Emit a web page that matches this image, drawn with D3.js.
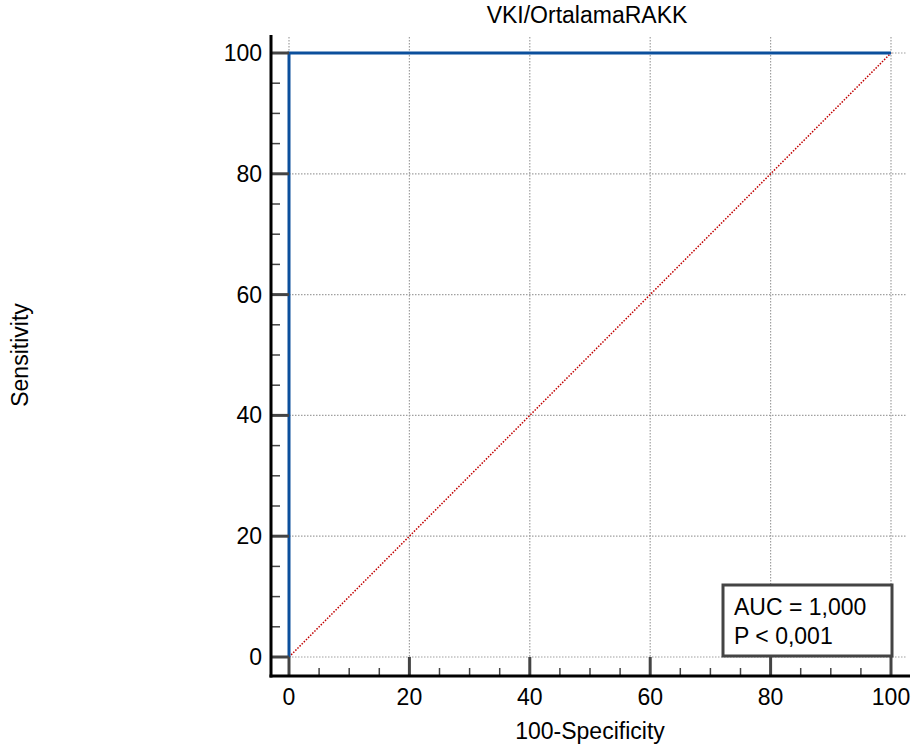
<!DOCTYPE html>
<html>
<head>
<meta charset="utf-8">
<script src="https://cdn.jsdelivr.net/npm/d3@7"></script>
<style>
  body { margin: 0; background: #fff; }
  text { font-family: "Liberation Sans", Arial, sans-serif; fill: #000; }
</style>
</head>
<body>
<div id="chart"></div>
<script>
let svgWidth = 914;
let svgHeight = 753;

// data
let rocX = [0, 0, 100];
let rocY = [0, 100, 100];
let diagX = [0, 100];
let diagY = [0, 100];
let majorTicks = [0, 20, 40, 60, 80, 100];
let minorTicks = d3.range(0, 101, 5).filter(v => v % 20 !== 0);
let legendLines = ["AUC = 1,000", "P < 0,001"];
let titleText = "VKI/OrtalamaRAKK";

let svg = d3.select("#chart")
            .append("svg")
            .attr("width", svgWidth)
            .attr("height", svgHeight);

// scales (0 sits a bit inside the axes, like the original)
let x = d3.scaleLinear().domain([0, 100]).range([289, 891]);
let y = d3.scaleLinear().domain([0, 100]).range([657, 53]);

let axisX = 271;   // y-axis line position
let axisY = 676;   // x-axis line position
let gridEndX = 907;
let gridTopY = 37;

// dotted grid
svg.append("g").selectAll("line.gx")
    .data(majorTicks)
    .enter()
    .append("line")
    .attr("x1", d => x(d)).attr("x2", d => x(d))
    .attr("y1", gridTopY).attr("y2", y(0))
    .attr("stroke", "#a0a0a0")
    .attr("stroke-width", 1.2)
    .attr("stroke-dasharray", "1.5,1.5");

svg.append("g").selectAll("line.gy")
    .data(majorTicks)
    .enter()
    .append("line")
    .attr("x1", x(0)).attr("x2", gridEndX)
    .attr("y1", d => y(d)).attr("y2", d => y(d))
    .attr("stroke", "#a0a0a0")
    .attr("stroke-width", 1.2)
    .attr("stroke-dasharray", "1.5,1.5");

// diagonal reference line
let diag = diagX.map((d, i) => [d, diagY[i]]);
svg.append("path")
    .datum(diag)
    .attr("d", d3.line().x(d => x(d[0])).y(d => y(d[1])))
    .attr("fill", "none")
    .attr("stroke", "#c00000")
    .attr("stroke-width", 1.5)
    .attr("stroke-dasharray", "1.5,1.5");

// ROC curve
let roc = rocX.map((d, i) => [d, rocY[i]]);
svg.append("path")
    .datum(roc)
    .attr("d", d3.line().x(d => x(d[0])).y(d => y(d[1])))
    .attr("fill", "none")
    .attr("stroke", "#0b4f9c")
    .attr("stroke-width", 3);

// major ticks bridge the gap between axis and zero line
svg.append("g").selectAll("line")
    .data(majorTicks)
    .enter()
    .append("line")
    .attr("x1", axisX).attr("x2", x(0))
    .attr("y1", d => y(d)).attr("y2", d => y(d))
    .attr("stroke", "#444")
    .attr("stroke-width", 3);

svg.append("g").selectAll("line")
    .data(majorTicks)
    .enter()
    .append("line")
    .attr("x1", d => x(d)).attr("x2", d => x(d))
    .attr("y1", axisY).attr("y2", y(0))
    .attr("stroke", "#444")
    .attr("stroke-width", 3);

// minor ticks
svg.append("g").selectAll("line")
    .data(minorTicks)
    .enter()
    .append("line")
    .attr("x1", axisX).attr("x2", axisX + 9)
    .attr("y1", d => y(d)).attr("y2", d => y(d))
    .attr("stroke", "#444")
    .attr("stroke-width", 1.5);

svg.append("g").selectAll("line")
    .data(minorTicks)
    .enter()
    .append("line")
    .attr("x1", d => x(d)).attr("x2", d => x(d))
    .attr("y1", axisY).attr("y2", axisY - 8)
    .attr("stroke", "#444")
    .attr("stroke-width", 1.5);

// axis lines
svg.append("line")
    .attr("x1", axisX).attr("x2", axisX)
    .attr("y1", 35).attr("y2", axisY + 1.5)
    .attr("stroke", "#000")
    .attr("stroke-width", 3);

svg.append("line")
    .attr("x1", axisX - 1.5).attr("x2", 910)
    .attr("y1", axisY).attr("y2", axisY)
    .attr("stroke", "#000")
    .attr("stroke-width", 3);

// tick labels
svg.append("g").selectAll("text")
    .data(majorTicks)
    .enter()
    .append("text")
    .attr("x", 262)
    .attr("y", d => y(d) + 8)
    .attr("text-anchor", "end")
    .attr("font-size", "23px")
    .text(d => d);

svg.append("g").selectAll("text")
    .data(majorTicks)
    .enter()
    .append("text")
    .attr("x", d => x(d))
    .attr("y", 705)
    .attr("text-anchor", "middle")
    .attr("font-size", "23px")
    .text(d => d);

// axis titles
svg.append("text")
    .attr("transform", `translate(28, ${(y(0) + y(100)) / 2}) rotate(-90)`)
    .attr("text-anchor", "middle")
    .attr("font-size", "23px")
    .text("Sensitivity");

svg.append("text")
    .attr("x", (x(0) + x(100)) / 2)
    .attr("y", 739)
    .attr("text-anchor", "middle")
    .attr("font-size", "23px")
    .text("100-Specificity");

svg.append("text")
    .attr("x", 587)
    .attr("y", 23)
    .attr("text-anchor", "middle")
    .attr("font-size", "23px")
    .text(titleText);

// legend box
let legend = svg.append("g");
legend.append("rect")
    .attr("x", 723).attr("y", 585)
    .attr("width", 169).attr("height", 71)
    .attr("fill", "#fff")
    .attr("stroke", "#444")
    .attr("stroke-width", 3);

legend.selectAll("text")
    .data(legendLines)
    .enter()
    .append("text")
    .attr("x", 734)
    .attr("y", (d, i) => 615 + i * 28.5)
    .attr("font-size", "23px")
    .text(d => d);
</script>
</body>
</html>
